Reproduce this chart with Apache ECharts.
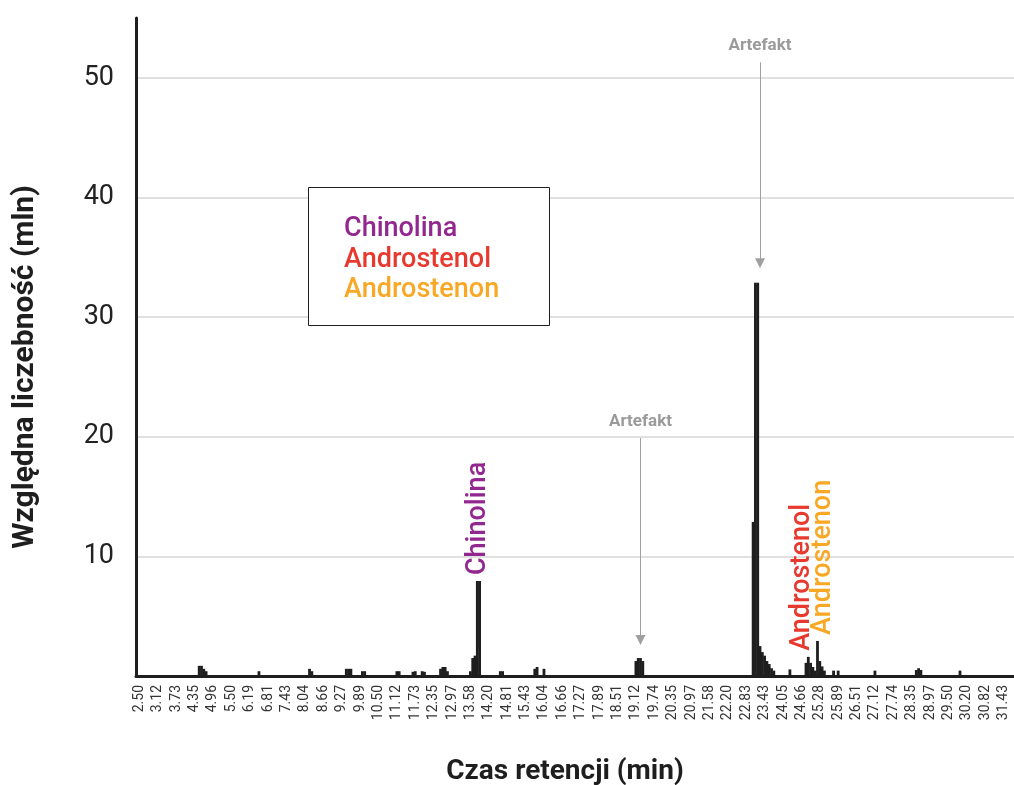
<!DOCTYPE html>
<html>
<head>
<meta charset="utf-8">
<script src="https://cdn.jsdelivr.net/npm/echarts@6/dist/echarts.min.js"></script>
<style>
html,body{margin:0;padding:0;background:#fff;}
#chart{width:1014px;height:785px;}
</style>
</head>
<body>
<div id="chart"></div>
<script>
// Tick labels of the retention-time axis (min)
const tickLabels = ['2.50','3.12','3.73','4.35','4.96','5.50','6.19','6.81','7.43','8.04','8.66','9.27','9.89','10.50','11.12','11.73','12.35','12.97','13.58','14.20','14.81','15.43','16.04','16.66','17.27','17.89','18.51','19.12','19.74','20.35','20.97','21.58','22.20','22.83','23.43','24.05','24.66','25.28','25.89','26.51','27.12','27.74','28.35','28.97','29.50','30.20','30.82','31.43'];
const scansPerTick = 8;
const scanCount = 382;

// Peaks: scan index (on the retention-time axis) and relative abundance (mln)
const scanIndex = [27,28,29,30, 53, 75,76, 91,92,93, 98,99, 113,114, 120,121, 124,125,
  132,133,134,135, 145,146,147,148,149, 158,159, 173,174,177, 217,218,219,220,
  268,269,270,271,272,273,274,275,276,277, 284,
  291,292,293,294,295,296,297,298,299, 303,305, 321, 339,340,341, 358];
const abundance = [0.85,0.85,0.6,0.4, 0.4, 0.6,0.4, 0.6,0.6,0.6, 0.4,0.4, 0.4,0.4, 0.35,0.4, 0.4,0.35,
  0.6,0.75,0.75,0.4, 0.4,1.5,1.7,7.94,7.94, 0.4,0.4, 0.6,0.75,0.6, 1.25,1.5,1.5,1.25,
  12.88,32.86,32.86,2.5,2.0,1.7,1.25,1.0,0.65,0.45, 0.55,
  1.1,1.6,1.1,0.75,0.45,2.93,1.25,0.8,0.45, 0.45,0.45, 0.45, 0.5,0.65,0.5, 0.45];

// Annotated compounds
const compoundNames = ['Chinolina','Androstenol','Androstenon'];
const compoundColors = ['#92278f','#e8392e','#f9a825'];
const compoundScan = [148, 292, 296];
const compoundShiftX = [1, -6, 6];

// Artefact arrows: scan index, arrow start value, arrow end value
const artefactScan = [271, 219];
const artefactFrom = [51.3, 19.9];
const artefactTo = [34.5, 3.0];

const categories = [];
for (let j = 0; j < scanCount; j++) categories.push('s' + j);

const values = new Array(scanCount).fill(0);
scanIndex.forEach((s, i) => { values[s] = abundance[i]; });

const seriesData = values.map((v, j) => {
  const ci = compoundScan.indexOf(j);
  if (ci < 0) return v;
  return {
    value: v,
    label: {
      show: true, position: 'top', rotate: 90, align: 'left', verticalAlign: 'middle',
      distance: 6, offset: [0, compoundShiftX[ci]],
      formatter: compoundNames[ci], color: compoundColors[ci],
      fontSize: 27, fontWeight: 500, fontFamily: 'Roboto'
    }
  };
});

const markLineData = artefactScan.map((s, i) => [
  { coord: [s, artefactFrom[i]] },
  { coord: [s, artefactTo[i]] }
]);

const chart = echarts.init(document.getElementById('chart'));
chart.setOption({
  animation: false,
  backgroundColor: '#fff',
  grid: { left: 136, right: 0, top: 18, bottom: 109, outerBoundsMode: 'none', containLabel: false },
  xAxis: {
    type: 'category',
    data: categories,
    boundaryGap: true,
    axisLine: { show: true, lineStyle: { color: '#1e1e1e', width: 3 } },
    axisTick: { show: false },
    axisLabel: {
      interval: (idx) => (idx - 1) % scansPerTick === 0,
      formatter: (val, idx) => ((idx - 1) % scansPerTick === 0 ? tickLabels[(idx - 1) / scansPerTick] : ''),
      rotate: 90, fontSize: 14, color: '#333', margin: 9, fontFamily: 'Roboto'
    },
    name: 'Czas retencji (min)',
    nameLocation: 'middle',
    nameGap: 82,
    nameMoveOverlap: false,
    nameTextStyle: { fontSize: 28, fontWeight: 'bold', color: '#1e1e1e', fontFamily: 'Roboto', padding: [0, 20, 0, 0] }
  },
  yAxis: {
    type: 'value',
    min: 0, max: 55, interval: 10,
    axisLine: { show: true, lineStyle: { color: '#1e1e1e', width: 3 } },
    axisTick: { show: false },
    axisLabel: {
      fontSize: 27, color: '#222', margin: 22, fontFamily: 'Roboto',
      formatter: (v) => (v > 0 && v <= 50 ? String(v) : ''),
      showMinLabel: false, showMaxLabel: false
    },
    splitLine: { show: true, showMinLine: false, showMaxLine: false, lineStyle: { color: '#d6d6d6', width: 1.5 } },
    name: 'Względna liczebność (mln)',
    nameLocation: 'middle',
    nameGap: 96,
    nameMoveOverlap: false,
    nameRotate: 90,
    nameTextStyle: { fontSize: 30, fontWeight: 'bold', color: '#1e1e1e', fontFamily: 'Roboto', padding: [0, 40, 0, 0] }
  },
  series: [{
    type: 'bar',
    data: seriesData,
    barWidth: 2.8,
    barGap: '-100%',
    itemStyle: { color: '#1e1e1e' },
    markLine: {
      silent: true,
      symbol: ['none', 'triangle'],
      symbolSize: 10,
      lineStyle: { color: '#a0a0a0', width: 1, type: 'solid' },
      itemStyle: { color: '#a0a0a0' },
      label: {
        show: true, position: 'start', formatter: 'Artefakt', distance: 8,
        color: '#9a9a9a', fontSize: 17, fontWeight: 'bold', fontFamily: 'Roboto'
      },
      emphasis: { disabled: true },
      data: markLineData
    }
  }],
  graphic: [
    { type: 'rect', z: 100, shape: { x: 308.5, y: 187.5, width: 241, height: 138 },
      style: { fill: '#fff', stroke: '#1e1e1e', lineWidth: 1 } },
    ...compoundNames.map((n, i) => ({
      type: 'text', z: 101, left: 344, top: 216 + i * 30.5,
      style: { text: n, fill: compoundColors[i], fontSize: 27, fontWeight: 500, fontFamily: 'Roboto' }
    }))
  ]
});
</script>
</body>
</html>
